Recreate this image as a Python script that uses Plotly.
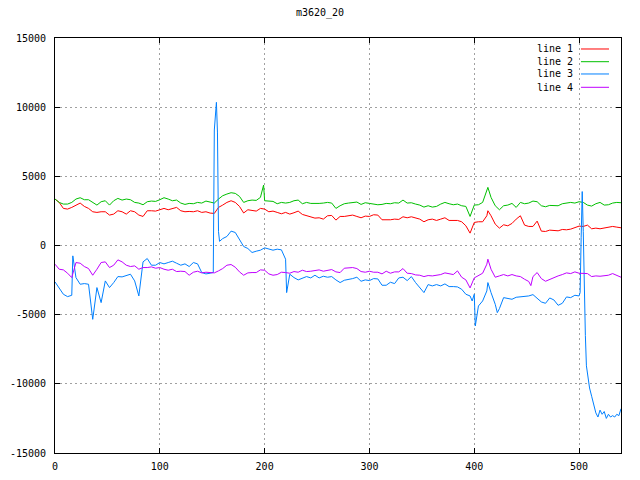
import plotly.graph_objects as go

# ---------------- data ----------------
x_grid = list(range(0, 541, 4))

line1 = [
    3357, 3115, 2681, 2632, 2753, 2922, 3067, 2826, 2681, 2439,
    2391, 2439, 2439, 2198, 2270, 2512, 2439, 2270, 2512, 2439,
    2198, 2101, 2512, 2512, 2487, 2584, 2681, 2584, 2681, 2753,
    2512, 2439, 2463, 2439, 2512, 2391, 2439, 2343, 2318, 2753,
    2922, 3115, 3236, 3115, 2826, 2350, 2584, 2536, 2487, 2681,
    2632, 2439, 2487, 2391, 2294, 2391, 2270, 2367, 2487, 2246,
    2149, 2077, 1980, 2004, 1908, 2149, 2173, 1836, 2101, 2101,
    2149, 2198, 2101, 2004, 2125, 2101, 2222, 2198, 1860, 1836,
    1860, 1908, 1884, 2077, 2004, 2077, 2004, 1908, 1715, 1860,
    1908, 1811, 1908, 2004, 1811, 1787, 1811, 1715, 1425, 894,
    1666, 1715, 1715, 2149, 2149, 1546, 1256, 1497, 1425, 1594,
    1908, 2149, 1473, 1377, 1377, 1763, 1038, 1014, 1111, 1087,
    1063, 1159, 1135, 1183, 1280, 1401, 1377, 1473, 1208, 1256,
    1208, 1256, 1304, 1377, 1328, 1280,
]
line1_extra_x = [413]
line1_extra_y = [2512]

line2 = [
    3357, 3115, 2995, 2995, 3115, 3357, 3453, 3309, 3309, 3115,
    2922, 3164, 3236, 2922, 3236, 3405, 3284, 3357, 3309, 3115,
    3067, 2946, 3164, 3212, 3188, 3309, 3453, 3357, 3236, 3284,
    3067, 2970, 3043, 3019, 3115, 3067, 3212, 3140, 3067, 3357,
    3598, 3719, 3816, 3767, 3550, 3115, 3236, 3284, 3260, 3478,
    3236, 3188, 3188, 3019, 3115, 3067, 3115, 3236, 3284, 3019,
    3115, 3043, 3019, 3043, 3067, 3115, 3067, 2681, 2874, 3019,
    3067, 3115, 3140, 2970, 3091, 3043, 2995, 2946, 2970, 3043,
    3019, 3091, 3067, 3284, 3067, 3091, 2995, 2922, 2777, 2874,
    2777, 2826, 2995, 3115, 3019, 2946, 2995, 2874, 2826, 2101,
    2922, 2946, 3115, 3888, 3478, 2874, 2584, 2874, 2922, 3043,
    2753, 3115, 3019, 3067, 3212, 3164, 2874, 2801, 2898, 2874,
    2874, 3019, 3091, 3115, 3067, 3164, 3115, 2922, 2850, 3019,
    3115, 2922, 2946, 3067, 3115, 3091,
]
line2_extra_x = [199, 413]
line2_extra_y = [4371, 4202]

line3 = [
    -2632, -3043, -3526, -3695, -3598, -2318, -2801, -2753, -2801, -5337,
    -3043, -4129, -2560, -3043, -2681, -2246, -2270, -2149, -2077, -2560,
    -3647, -1183, -942, -1425, -1425, -1232, -1328, -1232, -1135, -1280,
    -1425, -1328, -1521, -1232, -1328, -1956, -2053, -2004, 8350, 1000,
    500, 652, 1038, 942, 459, -72, -217, -507, -411, -338,
    -169, -266, -338, -266, -314, -990, -2077, -2318, -2487, -2343,
    -2246, -2343, -2149, -2343, -2222, -2294, -2246, -2487, -2681, -2512,
    -2463, -2391, -2294, -2584, -2487, -2536, -2391, -2415, -2874, -2874,
    -2657, -2753, -2343, -2294, -2536, -2246, -2681, -3019, -3405, -2826,
    -2922, -2826, -2922, -2777, -2970, -2970, -2994, -3164, -3526, -3647,
    -3526, -4371, -4009, -3284, -3405, -4250, -4564, -3767, -3840, -3888,
    -3743, -3719, -3695, -3647, -3550, -3840, -4081, -4178, -3792, -3936,
    -4323, -4178, -3719, -3767, -3598, -3647, 1000, -9400, -10900, -12100,
    -11900, -12000, -12200, -12300, -12200, -11800,
]
line3_extra_x = [17, 151, 154, 155, 157, 221, 398, 401, 413, 422,
                 501, 502, 503, 505, 506, 507, 510, 514, 518, 522,
                 526, 530, 534, 538]
line3_extra_y = [-749, -1950, 10350, 8200, 300, -3405, -4009, -5820, -2681, -4854,
                 -3400, 600, 3900, -4100, -6500, -8700, -10300, -11500, -12400, -12200,
                 -12500, -12400, -12400, -12300]

line4 = [
    -1352, -1715, -1763, -2004, -2318, -1232, -1280, -1521, -1666, -2149,
    -1715, -1232, -1183, -1594, -1425, -1038, -1183, -1425, -1521, -1473,
    -1715, -1594, -1594, -1546, -1642, -1594, -1715, -1787, -1715, -1884,
    -1860, -1884, -2149, -1932, -1860, -1980, -1932, -1956, -1980, -1835,
    -1666, -1425, -1376, -1570, -1908, -2149, -1980, -1956, -1956, -1763,
    -1787, -2053, -2149, -2101, -1932, -1956, -2004, -1884, -1932, -1787,
    -1884, -1860, -1835, -1763, -1860, -1787, -1739, -1908, -1956, -1642,
    -1642, -1594, -1666, -1884, -1932, -1860, -1932, -1932, -2053, -1860,
    -2004, -1908, -1908, -1666, -2004, -2029, -2125, -2149, -2246, -2173,
    -2198, -2149, -2101, -1980, -2053, -2101, -1835, -2294, -2487, -3067,
    -2343, -2149, -2004, -1352, -1715, -2294, -2198, -2101, -2198, -2101,
    -2198, -2246, -2439, -2600, -2246, -1956, -2391, -2584, -2439, -2294,
    -2198, -2101, -1980, -2029, -1908, -2004, -2004, -2029, -2246, -2198,
    -2222, -2198, -2149, -2029, -2149, -2294,
]
line4_extra_x = [413, 454]
line4_extra_y = [-990, -2900]

series_names = ["line 1", "line 2", "line 3", "line 4"]
series_colors = ["#ff0000", "#00c000", "#0080ff", "#c000ff"]

x_tick_vals = [0, 100, 200, 300, 400, 500]
x_tick_text = ["0", "100", "200", "300", "400", "500"]
y_tick_vals = [-15000, -10000, -5000, 0, 5000, 10000, 15000]
y_tick_text = ["-15000", "-10000", "-5000", "0", "5000", "10000", "15000"]

title_text = "m3620_20"


def merge(xs, ys, ex, ey):
    pts = sorted(list(zip(xs, ys)) + list(zip(ex, ey)))
    return [p[0] for p in pts], [p[1] for p in pts]


all_series = [
    merge(x_grid, line1, line1_extra_x, line1_extra_y),
    merge(x_grid, line2, line2_extra_x, line2_extra_y),
    merge(x_grid, line3, line3_extra_x, line3_extra_y),
    merge(x_grid, line4, line4_extra_x, line4_extra_y),
]

FONT = "DejaVu Sans Mono"

# the page body has an 8px margin, so the figure is sized to fit the window
FIG_W, FIG_H = 632, 472

fig = go.Figure()
for (xs, ys), name, color in zip(all_series, series_names, series_colors):
    fig.add_trace(go.Scatter(x=xs, y=ys, mode="lines", name=name,
                             line=dict(color=color, width=1)))

fig.update_layout(
    width=FIG_W, height=FIG_H,
    margin=dict(l=47, r=19, t=30, b=27, pad=0, autoexpand=False),
    paper_bgcolor="white", plot_bgcolor="white",
    showlegend=False,
    font=dict(family=FONT, size=10, color="black"),
    title=dict(text=title_text, x=(320 - 8) / FIG_W, xanchor="center",
               y=1 - 4 / FIG_H, yanchor="middle",
               font=dict(family=FONT, size=10, color="black")),
)

axis_common = dict(
    automargin=False,
    showgrid=True, gridcolor="#a0a0a0", gridwidth=1, griddash="2px,3px",
    zeroline=False, showline=True, linecolor="black", linewidth=1,
    mirror="allticks", ticks="inside", ticklen=5, tickcolor="black",
    tickwidth=1, tickfont=dict(family=FONT, size=10, color="black"),
)
fig.update_xaxes(range=[0, 540], tickvals=x_tick_vals, ticktext=x_tick_text,
                 ticklabelstandoff=4, **axis_common)
fig.update_yaxes(range=[-15000, 15000], tickvals=y_tick_vals, ticktext=y_tick_text,
                 ticklabelstandoff=6, **axis_common)

# key area (gnuplot style: text right-aligned, sample to the right)
fig.add_shape(type="rect", xref="paper", yref="paper",
              x0=0.86, x1=0.995, y0=0.862, y1=0.985,
              fillcolor="white", line=dict(width=0), layer="between")

key_y = [0.9735, 0.9429, 0.9133, 0.8812]
for name, color, ky in zip(series_names, series_colors, key_y):
    fig.add_annotation(xref="paper", yref="paper", x=0.9187, y=ky,
                       text=name, showarrow=False, xanchor="right",
                       yanchor="middle",
                       font=dict(family=FONT, size=10, color="black"))
    fig.add_shape(type="line", xref="paper", yref="paper",
                  x0=0.9293, x1=0.9788, y0=ky, y1=ky,
                  line=dict(color=color, width=1), layer="above")

fig.write_html("out.html")
